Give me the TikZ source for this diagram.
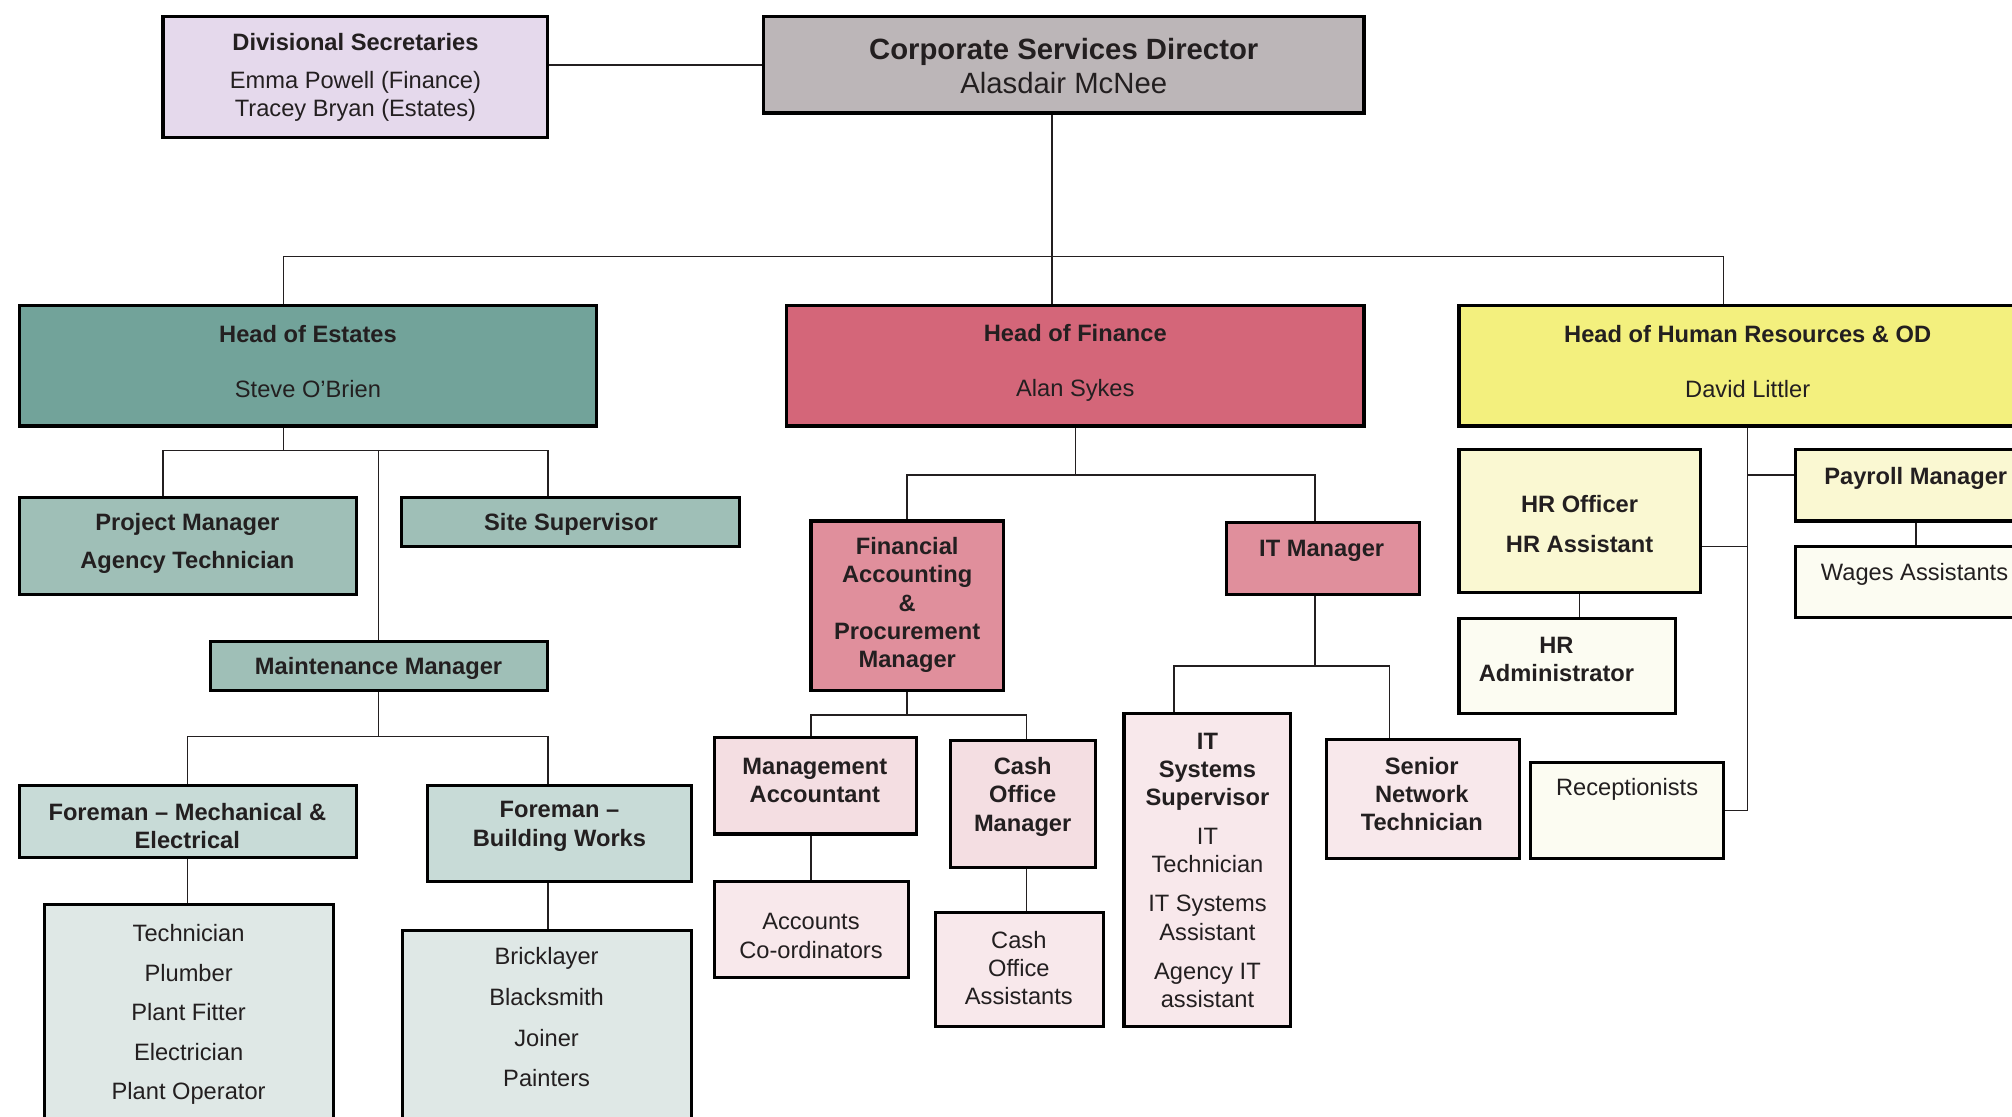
\documentclass[tikz,border=0pt]{standalone}
\usepackage{fontspec}
\setmainfont{Liberation Sans}
\usetikzlibrary{fit}
\definecolor{ink}{HTML}{231F20}
\definecolor{cSec}{HTML}{E5D9EC}
\definecolor{cDir}{HTML}{BCB6B8}
\definecolor{cEst}{HTML}{72A39A}
\definecolor{cFin}{HTML}{D46679}
\definecolor{cHR}{HTML}{F3F07E}
\definecolor{cEstA}{HTML}{9FBFB7}
\definecolor{cEstB}{HTML}{C8DBD7}
\definecolor{cEstC}{HTML}{DFE8E6}
\definecolor{cFinA}{HTML}{E08F9C}
\definecolor{cFinB}{HTML}{F4DEE2}
\definecolor{cFinC}{HTML}{F8E8EB}
\definecolor{cHRA}{HTML}{FAF8D2}
\definecolor{cHRB}{HTML}{FCFCF2}
\begin{document}
\begin{tikzpicture}[x=0.02cm,y=-0.02cm,
  orgbox/.style={draw=black,line width=1.4pt,inner sep=0pt},
  conn/.style={line width=0.7pt,draw=ink},
  nt/.style={font=\fontsize{10.5}{12.5}\selectfont,align=center,text=ink,inner sep=0pt,yshift=-1.1pt},
  bt/.style={nt,font=\fontsize{10.5}{12.5}\selectfont\bfseries}]
\useasboundingbox[fill=white] (0,0) rectangle (1568,870);
\clip (0,0) rectangle (1568,870);
% top level
\node[orgbox,fill=cSec,fit={(127,13) (427,107)}] (sec) {};
\node[nt] (sect) at (277,58.5) {\textbf{Divisional Secretaries}\\[4pt]Emma Powell (Finance)\\Tracey Bryan (Estates)};
\node[orgbox,fill=cDir,fit={(595,13) (1063,88)}] (csd) {};
\node[nt,font=\fontsize{13}{15.3}\selectfont] (csdt) at (829,49.5) {\textbf{Corporate Services Director}\\Alasdair McNee};
% heads
\node[orgbox,fill=cEst,fit={(15,238) (465,332)}] (est) {};
\node[nt] (estt) at (240,279.5) {\textbf{Head of Estates}\\[11.9pt]Steve O’Brien};
\node[orgbox,fill=cFin,fit={(613,238) (1063,332)}] (fin) {};
\node[nt] (fint) at (838,280.5) {\textbf{Head of Finance}\\[11.9pt]Alan Sykes};
\node[orgbox,fill=cHR,fit={(1137,238) (1590,332)}] (hr) {};
\node[nt] (hrt) at (1362,279.5) {\textbf{Head of Human Resources \& OD}\\[11.9pt]David Littler};
% estates
\node[orgbox,fill=cEstA,fit={(15,388) (278,463)}] (pm) {};
\node[bt] (pmt) at (146,421.5) {Project Manager\\[4pt]Agency Technician};
\node[orgbox,fill=cEstA,fit={(313,388) (576,426)}] (site) {};
\node[bt] (sitet) at (445,407) {Site Supervisor};
\node[orgbox,fill=cEstA,fit={(164,500) (427,538)}] (maint) {};
\node[bt] (maintt) at (295,519) {Maintenance Manager};
\node[orgbox,fill=cEstB,fit={(15,612) (278,668)}] (fme) {};
\node[bt] (fmet) at (146,642) {Foreman – Mechanical \&\\Electrical};
\node[orgbox,fill=cEstB,fit={(333,612) (539,687)}] (fbw) {};
\node[bt] (fbwt) at (436,642) {Foreman –\\Building Works};
\node[orgbox,fill=cEstC,fit={(35,705) (260,900)}] (lista) {};
\foreach \y/\t in {725/Technician,756/Plumber,787/Plant Fitter,818/Electrician,850/Plant Operator}
  \node[nt] (lista-\y) at (147,\y) {\t};
\node[orgbox,fill=cEstC,fit={(314,725) (539,900)}] (listb) {};
\foreach \y/\t in {745/Bricklayer,775/Blacksmith,807/Joiner,838/Painters}
  \node[nt] (listb-\y) at (426,\y) {\t};
% finance
\node[orgbox,fill=cFinA,fit={(632,406) (782,538)}] (fapm) {};
\node[bt] (fapmt) at (707,469.5) {Financial\\Accounting\\\&\\Procurement\\Manager};
\node[orgbox,fill=cFinA,fit={(956,407) (1106,463)}] (itm) {};
\node[bt] (itmt) at (1030,427) {IT Manager};
\node[orgbox,fill=cFinB,fit={(557,575) (714,650)}] (ma) {};
\node[bt] (mat) at (635,606) {Management\\Accountant};
\node[orgbox,fill=cFinC,fit={(557,687) (708,762)}] (acc) {};
\node[nt] (acct) at (632,727.5) {Accounts\\Co-ordinators};
\node[orgbox,fill=cFinB,fit={(741,577) (854,676)}] (com) {};
\node[bt] (comt) at (797,619) {Cash\\Office\\Manager};
\node[orgbox,fill=cFinC,fit={(729,711) (860,800)}] (coa) {};
\node[nt] (coat) at (794,752.5) {Cash\\Office\\Assistants};
\node[orgbox,fill=cFinC,fit={(876,556) (1006,800)}] (itss) {};
\node[nt] (itsst) at (941,676.5) {\textbf{IT}\\\textbf{Systems}\\\textbf{Supervisor}\\[4.5pt]IT\\Technician\\[5pt]IT Systems\\Assistant\\[5pt]Agency IT\\assistant};
\node[orgbox,fill=cFinC,fit={(1034,576) (1184,669)}] (snt) {};
\node[bt] (sntt) at (1108,617) {Senior\\Network\\Technician};
% human resources
\node[orgbox,fill=cHRA,fit={(1137,350) (1325,462)}] (hro) {};
\node[bt] (hrot) at (1231,406.5) {HR Officer\\[5pt]HR Assistant};
\node[orgbox,fill=cHRB,fit={(1137,482) (1306,556)}] (hra) {};
\node[bt] (hrat) at (1213,512) {HR\\Administrator};
\node[orgbox,fill=cHRB,fit={(1193,594) (1343,669)}] (rec) {};
\node[nt] (rect) at (1268,613) {Receptionists};
\node[orgbox,fill=cHRA,fit={(1399,350) (1590,406)}] (pay) {};
\node[bt] (payt) at (1493,371) {Payroll Manager};
\node[orgbox,fill=cHRB,fit={(1399,426) (1590,481)}] (wag) {};
\node[nt] (wagt) at (1492,446) {Wages Assistants};
% connectors
\draw[conn] (csd.west) -- (csd.west -| sec.east);
\coordinate (bus0) at (820,200);
\draw[conn] (csd.south -| bus0) -- (fin.north -| bus0);
\draw[conn] (est.north -| 221,0) |- (bus0) -| (hr.north -| 1343,0);
\coordinate (bus1) at (295,351);
\draw[conn] (est.south -| 221,0) -- (221,0 |- bus1);
\draw[conn] (pm.north -| 127,0) |- (bus1) -| (site.north -| 427,0);
\draw[conn] (bus1) -- (maint.north -| bus1);
\coordinate (bus2) at (295,574);
\draw[conn] (maint.south -| bus2) -- (bus2);
\draw[conn] (fme.north -| 146,0) |- (bus2) -| (fbw.north -| 427,0);
\draw[conn] (fme.south -| 146,0) -- (lista.north -| 146,0);
\draw[conn] (fbw.south -| 427,0) -- (listb.north -| 427,0);
\coordinate (bus3) at (838,370);
\draw[conn] (fin.south) -- (bus3);
\draw[conn] (fapm.north) |- (bus3) -| (itm.north -| 1025,0);
\coordinate (bus4) at (707,557);
\draw[conn] (fapm.south) -- (bus4);
\draw[conn] (ma.north -| 632,0) |- (bus4) -| (com.north -| 800,0);
\draw[conn] (ma.south -| 632,0) -- (acc.north -| 632,0);
\draw[conn] (com.south -| 800,0) -- (coa.north -| 800,0);
\coordinate (bus5) at (1025,519);
\draw[conn] (itm.south -| bus5) -- (bus5);
\draw[conn] (itss.north -| 915,0) |- (bus5) -| (snt.north -| 1083,0);
\coordinate (spine) at (1362,332);
\draw[conn] (hr.south -| spine) |- (rec.east);
\draw[conn] (pay.west |- 0,370) -- (spine |- 0,370);
\draw[conn] (hro.east |- 0,426) -- (spine |- 0,426);
\draw[conn] (hro.south) -- (hra.north -| hro.south);
\draw[conn] (pay.south -| 1493,0) -- (wag.north -| 1493,0);
\end{tikzpicture}
\end{document}
